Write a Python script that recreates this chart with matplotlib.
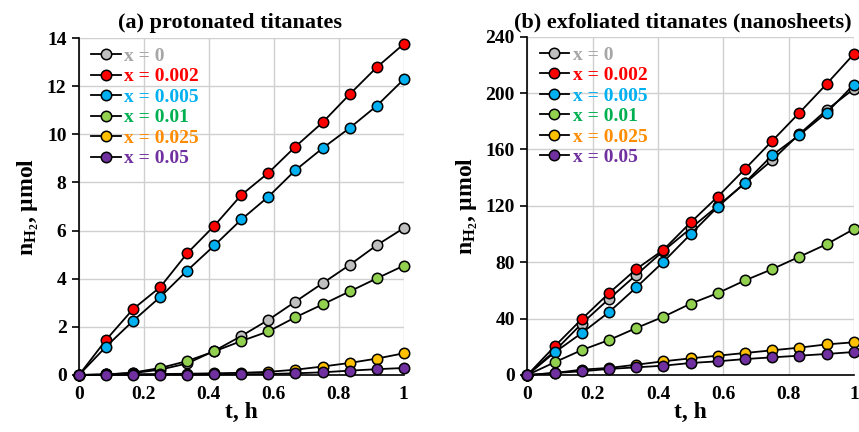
import numpy as np
import matplotlib
matplotlib.use("Agg")
import matplotlib.pyplot as plt

plt.rcParams['font.family'] = ['Liberation Serif', 'DejaVu Serif']
plt.rcParams['font.weight'] = 'bold'
plt.rcParams['mathtext.fontset'] = 'custom'
plt.rcParams['mathtext.rm'] = 'Liberation Serif'
plt.rcParams['mathtext.bf'] = 'Liberation Serif:bold'

# time points, h
t = [0, 1/12, 2/12, 3/12, 4/12, 5/12, 6/12, 7/12, 8/12, 9/12, 10/12, 11/12, 1]

labels = ['x = 0', 'x = 0.002', 'x = 0.005', 'x = 0.01', 'x = 0.025', 'x = 0.05']
fill_colors = ['#BFBFBF', '#FF0000', '#00B0F0', '#92D050', '#FFC000', '#7030A0']
text_colors = ['#A6A6A6', '#FF0000', '#00B0F0', '#00B050', '#FF8C00', '#7030A0']

# (a) protonated titanates, umol
a_x0 = [0, 0.02, 0.08, 0.22, 0.48, 1.0, 1.62, 2.29, 3.05, 3.81, 4.57, 5.39, 6.1]
a_x002 = [0, 1.46, 2.74, 3.65, 5.06, 6.2, 7.48, 8.4, 9.49, 10.49, 11.66, 12.78, 13.75]
a_x005 = [0, 1.18, 2.25, 3.24, 4.34, 5.38, 6.46, 7.41, 8.51, 9.42, 10.26, 11.18, 12.28]
a_x01 = [0, 0.02, 0.1, 0.29, 0.58, 0.98, 1.41, 1.81, 2.4, 2.93, 3.47, 4.01, 4.54]
a_x025 = [0, 0.02, 0.03, 0.04, 0.05, 0.07, 0.09, 0.13, 0.22, 0.35, 0.5, 0.68, 0.9]
a_x05 = [0, 0.0, 0.01, 0.01, 0.01, 0.02, 0.03, 0.04, 0.07, 0.11, 0.18, 0.24, 0.29]

# (b) exfoliated titanates (nanosheets), umol
b_x0 = [0, 17, 36.5, 54, 71, 88, 104, 120, 136, 152.5, 171, 188, 203]
b_x002 = [0, 20.3, 39.7, 58.1, 75.1, 88.8, 108.2, 126.6, 146.2, 166.1, 186.1, 206.5, 227.7]
b_x005 = [0, 16, 29.8, 44.6, 62.1, 80.3, 99.9, 119.3, 136.5, 155.9, 170.3, 186.1, 206]
b_x01 = [0, 9, 17.7, 24.8, 33.3, 41.3, 50.6, 58.1, 67.1, 75.1, 83.9, 92.8, 103.5]
b_x025 = [0, 1.4, 3.8, 5, 7.3, 9.7, 11.8, 13.7, 15.6, 17.5, 19.4, 21.7, 23.2]
b_x05 = [0, 1.4, 2.6, 4.3, 5.4, 6.6, 8.5, 9.7, 11.3, 12.5, 13.7, 14.9, 16.3]

panels = [
    ('(a) protonated titanates', [a_x0, a_x002, a_x005, a_x01, a_x025, a_x05], 14, 2, 0.466),
    ('(b) exfoliated titanates (nanosheets)', [b_x0, b_x002, b_x005, b_x01, b_x025, b_x05], 240, 40, 0.475),
]
rects = [[0.092, 0.132, 0.378, 0.780], [0.614, 0.132, 0.380, 0.783]]

fig = plt.figure(figsize=(8.59, 4.32), dpi=100)
for (title, series, ymax, ystep, tx), rect in zip(panels, rects):
    ax = fig.add_axes(rect)
    for y, fc, lab in zip(series, fill_colors, labels):
        ax.plot(t, y, color='black', lw=1.3, marker='o', ms=7.5,
                mfc=fc, mec='black', mew=1.1, label=lab, clip_on=False, zorder=3)
    ax.set_xlim(0, 1)
    ax.set_ylim(0, ymax)
    ax.set_xticks(np.arange(0, 1.01, 0.2))
    ax.set_xticklabels(['0', '0.2', '0.4', '0.6', '0.8', '1'])
    ax.set_yticks(np.arange(0, ymax + 0.1, ystep))
    ax.grid(True, color='#D0D0D0', lw=1.0, zorder=0)
    ax.set_axisbelow(True)
    for s in ['top', 'right']:
        ax.spines[s].set_visible(False)
    ax.spines['left'].set_linewidth(1.2)
    ax.spines['bottom'].set_linewidth(1.2)
    ax.tick_params(axis='y', direction='out', length=5, width=1.2, labelsize=14, pad=4)
    ax.tick_params(axis='x', length=0, labelsize=14, pad=8)
    for lb in ax.get_xticklabels() + ax.get_yticklabels():
        lb.set_fontweight('bold')
    ax.set_title(title, fontsize=16, fontweight='bold', pad=7, x=tx)
    ax.set_xlabel('t, h', fontsize=17, fontweight='bold', labelpad=-1)
    ax.set_ylabel(r'$\mathbf{n_{H_2}}$, µmol', fontsize=17, fontweight='bold', labelpad=4)
    leg = ax.legend(loc='upper left', bbox_to_anchor=(0.02, 0.99), frameon=False,
                    handlelength=1.5, handletextpad=0.2, labelspacing=0.15,
                    borderaxespad=0.0, borderpad=0.3, prop={'weight': 'bold', 'size': 14})
    for txt, c in zip(leg.get_texts(), text_colors):
        txt.set_color(c)

fig.savefig('out.png', dpi=100)
